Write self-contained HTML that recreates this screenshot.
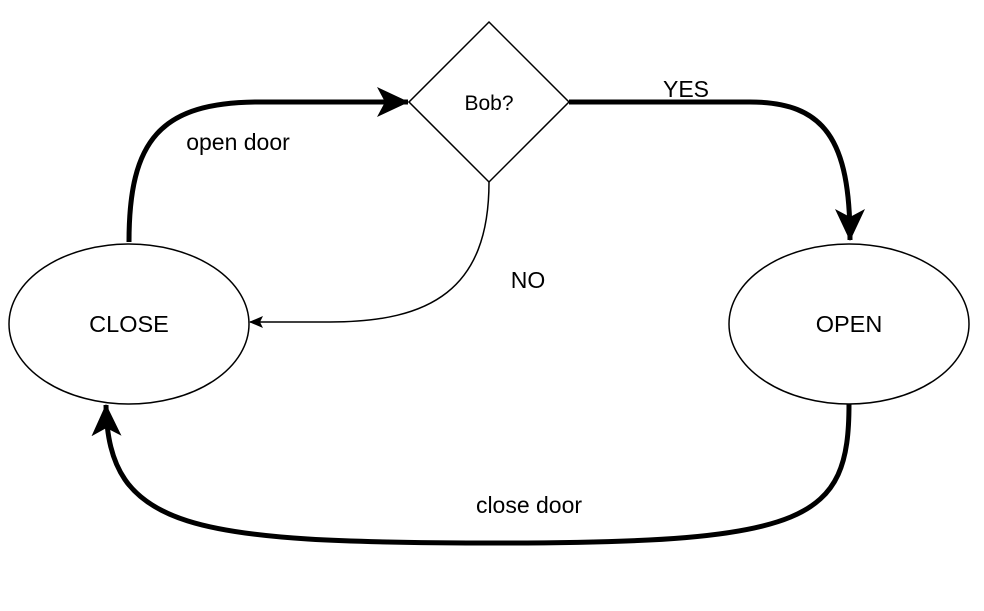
<!DOCTYPE html>
<html><head><style>body{margin:0;background:#fff}</style></head><body>
<svg width="984" height="606" viewBox="0 0 984 606" xmlns="http://www.w3.org/2000/svg" font-family="Liberation Sans, Arial, sans-serif">
<defs>
<marker id="big" markerUnits="userSpaceOnUse" viewBox="0 0 32 30" refX="31" refY="15" markerWidth="32" markerHeight="30" orient="auto">
<path d="M0,0 L32,15 L0,30 L8,15 Z" fill="#000"/></marker>
<marker id="small" markerUnits="userSpaceOnUse" viewBox="0 0 14 12" refX="13" refY="6" markerWidth="14" markerHeight="12" orient="auto">
<path d="M0,0 L14,6 L0,12 L3,6 Z" fill="#000"/></marker>
</defs>
<rect width="984" height="606" fill="#fff"/>
<polygon points="489,22 569,102 489,182 409,102" fill="#fff" stroke="#000" stroke-width="1.5"/>
<text x="489" y="110" font-size="21" text-anchor="middle">Bob?</text>
<ellipse cx="129" cy="324" rx="120" ry="80" fill="#fff" stroke="#000" stroke-width="1.5"/>
<text x="129" y="332" font-size="23.5" text-anchor="middle">CLOSE</text>
<ellipse cx="849" cy="324" rx="120" ry="80" fill="#fff" stroke="#000" stroke-width="1.5"/>
<text x="849" y="332" font-size="23.5" text-anchor="middle">OPEN</text>
<path d="M129,242 C129,140 160,102 260,102 L408,102" fill="none" stroke="#000" stroke-width="5" marker-end="url(#big)"/>
<path d="M569,102 L750,102 C825,102 850,140 850,240" fill="none" stroke="#000" stroke-width="5" marker-end="url(#big)"/>
<path d="M489,182 C489,290 430,322 330,322 L250,322" fill="none" stroke="#000" stroke-width="1.5" marker-end="url(#small)"/>
<path d="M849,404 C849,520 810,543 500,543 C190,543 108,530 106,405" fill="none" stroke="#000" stroke-width="5" marker-end="url(#big)"/>
<text x="238" y="150" font-size="23" text-anchor="middle">open door</text>
<text x="686" y="97" font-size="23" text-anchor="middle">YES</text>
<text x="528" y="288" font-size="23" text-anchor="middle">NO</text>
<text x="529" y="513" font-size="23" text-anchor="middle">close door</text>
</svg>
</body></html>
